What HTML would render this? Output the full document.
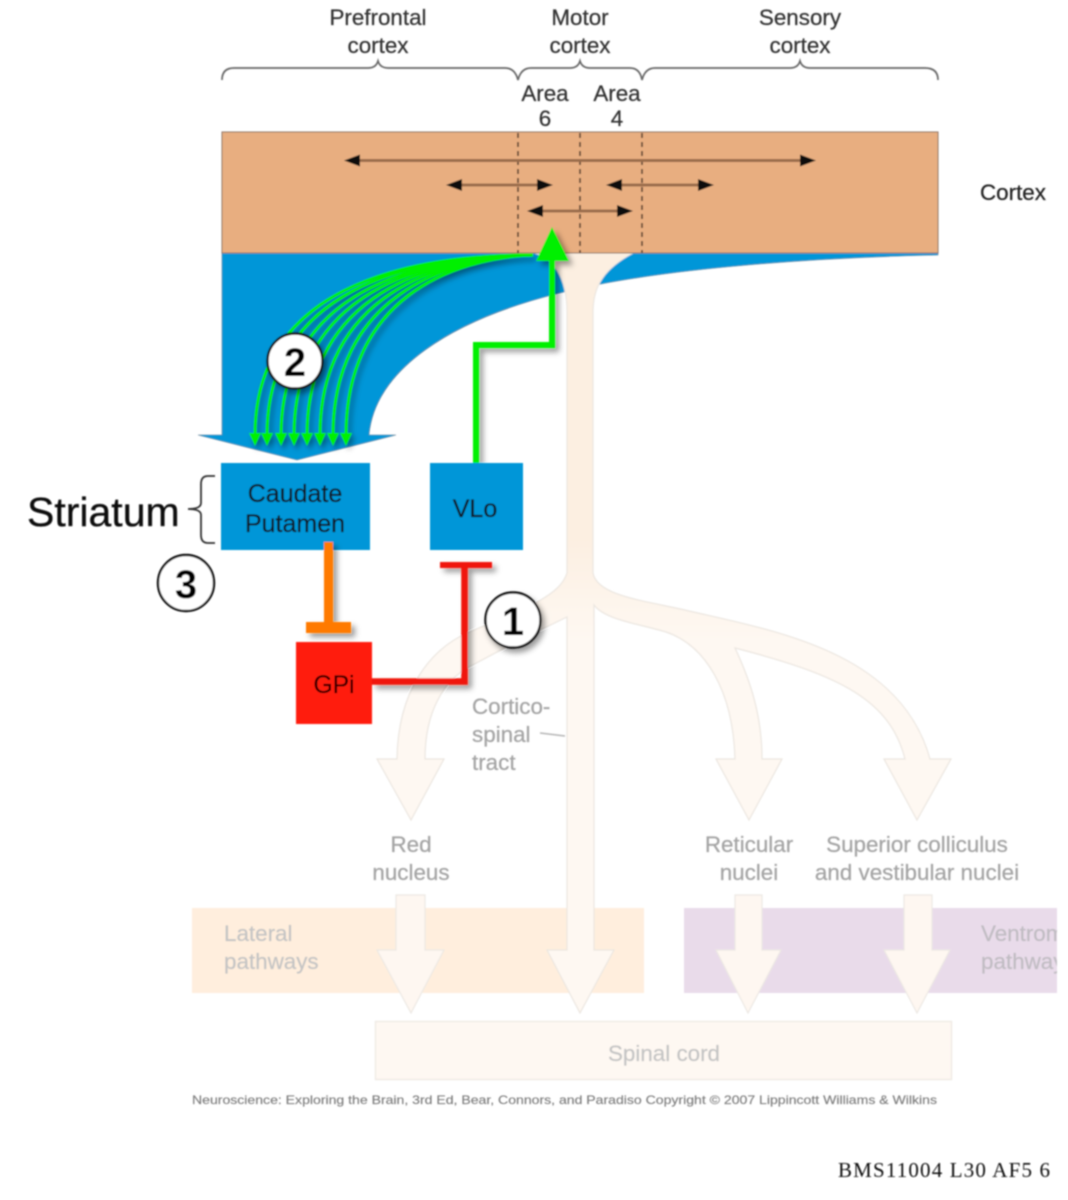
<!DOCTYPE html>
<html>
<head>
<meta charset="utf-8">
<style>
html,body{margin:0;padding:0;background:#fff;width:1068px;height:1200px;overflow:hidden}
svg{display:block}
text{font-family:"Liberation Sans",sans-serif}
</style>
</head>
<body>
<svg width="1068" height="1200" viewBox="0 0 1068 1200" xmlns="http://www.w3.org/2000/svg">
<defs>
<filter id="soft" x="-2%" y="-2%" width="104%" height="104%"><feGaussianBlur stdDeviation="0.8"/></filter>
<filter id="sh" x="-30%" y="-30%" width="160%" height="160%"><feDropShadow dx="4" dy="4" stdDeviation="3" flood-color="#000" flood-opacity="0.4"/></filter>
<filter id="sh2" x="-30%" y="-30%" width="160%" height="160%"><feDropShadow dx="3" dy="4" stdDeviation="3" flood-color="#000" flood-opacity="0.4"/></filter>
<linearGradient id="tr" gradientUnits="userSpaceOnUse" x1="0" y1="540" x2="0" y2="640">
<stop offset="0" stop-color="#fcefe1"/><stop offset="1" stop-color="#fef8f2"/>
</linearGradient>
</defs>
<g filter="url(#soft)">
<!-- lower pathway bands -->
<rect x="192" y="908" width="452" height="85" fill="#ffeedd"/>
<rect x="684" y="908" width="373" height="85" fill="#e9dbea"/>
<text font-size="22.4" fill="#c4c4c4" stroke="#c4c4c4" stroke-width="0.25"><tspan x="224" y="941">Lateral</tspan><tspan x="224" y="969">pathways</tspan></text>
<svg x="684" y="908" width="373" height="85" viewBox="684 908 373 85"><text font-size="22.4" fill="#c0bcc2" stroke="#c0bcc2" stroke-width="0.25"><tspan x="981" y="941">Ventromedial</tspan><tspan x="981" y="969">pathways</tspan></text></svg>
<rect x="375.5" y="1021.5" width="576" height="58" fill="#fef8f2" stroke="#f0ebe5" stroke-width="1.5"/>
<text x="664" y="1061" font-size="22.4" fill="#c4c4c4" stroke="#c4c4c4" stroke-width="0.25" text-anchor="middle">Spinal cord</text>

<!-- blue cortical projection -->
<path d="M222,253 H938 V255 C800,258 650,270 560,293 C450,320 375,370 369,435 H396 L297,460 L198,435 H222 Z" fill="#0096d8" stroke="#5a7f95" stroke-width="0.6"/>

<!-- corticospinal tract and branches -->
<path d="M535,253 C552,258 567,275 567,312 V573 C560,595 530,607 467,633 C430,650 398,690 397,759 H377 L411,820 L444,759 H425 C425,710 445,680 469,667 C500,650 540,630 567,617 V950 H547 L580,1013 L614,950 H594 V605 C605,620 640,624 666,632 C705,645 733,690 735,759 H716 L749,820 L782,759 H762 C762,715 750,680 735,648 C840,675 890,700 905,759 H884 L917,820 L951,759 H930 C900,650 770,630 685,610 C640,600 597,595 593,573 V312 C593,285 605,268 633,253 Z" fill="url(#tr)" stroke="#ebe6e0" stroke-width="1.2"/>
<!-- lower arrows -->
<path d="M396,895 H425 V950 H444 L411,1013 L377,950 H396 Z" fill="#fef7f1" stroke="#ece8e3" stroke-width="1.2"/>
<path d="M735,895 H762 V950 H781 L748,1013 L716,950 H735 Z" fill="#fef7f1" stroke="#ece8e3" stroke-width="1.2"/>
<path d="M904,895 H932 V950 H950 L917,1013 L884,950 H904 Z" fill="#fef7f1" stroke="#ece8e3" stroke-width="1.2"/>

<!-- cortex -->
<rect x="222" y="132" width="716" height="121" fill="#e8ae80" stroke="#8a7264" stroke-width="1"/>
<g stroke="#5a4030" stroke-width="1.7" stroke-dasharray="5 4">
<line x1="518" y1="133" x2="518" y2="253"/>
<line x1="580" y1="133" x2="580" y2="253"/>
<line x1="642" y1="133" x2="642" y2="253"/>
</g>
<g stroke="#9a6c4c" stroke-width="3">
<line x1="355" y1="160.5" x2="805" y2="160.5"/>
<line x1="457" y1="185" x2="542" y2="185"/>
<line x1="617" y1="185" x2="703" y2="185"/>
<line x1="538" y1="211" x2="621" y2="211"/>
</g>
<path d="M344,160.5 l16,-6 v12 z M816,160.5 l-16,-6 v12 z M446,185 l16,-6 v12 z M553,185 l-16,-6 v12 z M606,185 l16,-6 v12 z M714,185 l-16,-6 v12 z M527,211 l16,-6 v12 z M633,211 l-16,-6 v12 z" fill="#111"/>

<!-- braces -->
<path d="M222,80 q0,-12 12,-12 H368 q8,0 10,-7 q2,7 10,7 H505 q10,0 13,12 q3,-12 13,-12 H570 q8,0 10,-7 q2,7 10,7 H630 q10,0 12,12 q3,-12 13,-12 H790 q8,0 10,-7 q2,7 10,7 H925 q13,0 13,12" fill="none" stroke="#666" stroke-width="1.7"/>

<!-- top labels -->
<g font-size="22.4" fill="#333" stroke="#333" stroke-width="0.25" text-anchor="middle">
<text x="378" y="25">Prefrontal</text><text x="378" y="53">cortex</text>
<text x="580" y="25">Motor</text><text x="580" y="53">cortex</text>
<text x="800" y="25">Sensory</text><text x="800" y="53">cortex</text>
<text x="545" y="101">Area</text><text x="545" y="126">6</text>
<text x="617" y="101">Area</text><text x="617" y="126">4</text>
</g>
<text x="980" y="200" font-size="22.4" fill="#222" stroke="#222" stroke-width="0.25">Cortex</text>

<!-- green fan -->
<g filter="url(#sh2)">
<g fill="none" stroke="#00f000" stroke-width="3">
<path d="M533,255 C400,255 255,290 255,435"/>
<path d="M533,255 C407,255 267,291 267,435"/>
<path d="M533,255 C414,256 281,293 281,435"/>
<path d="M533,255 C421,256 294,294 294,435"/>
<path d="M533,255 C429,256 307,296 307,435"/>
<path d="M533,255 C436,257 320,297 320,435"/>
<path d="M533,255 C443,257 333,299 333,435"/>
<path d="M533,255 C450,258 346,300 346,435"/>
</g>
<path d="M249,433 h12 l-6,13 z M261,433 h12 l-6,13 z M275,433 h12 l-6,13 z M288,433 h12 l-6,13 z M301,433 h12 l-6,13 z M314,433 h12 l-6,13 z M327,433 h12 l-6,13 z M340,433 h12 l-6,13 z" fill="#00f000"/>
</g>

<!-- green thick -->
<g filter="url(#sh)">
<path d="M476,463 V345 H552 V255" fill="none" stroke="#00f000" stroke-width="6"/>
<path d="M552,227 L569,261 H536 Z" fill="#00f000"/>
</g>

<!-- boxes -->
<rect x="221" y="463" width="149" height="87" fill="#0096d8"/>
<rect x="430" y="463" width="93" height="87" fill="#0096d8"/>
<rect x="296" y="642" width="76" height="82" fill="#ff1a0a"/>
<g font-size="25" fill="#0a1a28" stroke="#0a1a28" stroke-width="0.3" text-anchor="middle">
<text x="295" y="502">Caudate</text>
<text x="295" y="532">Putamen</text>
<text x="475" y="517">VLo</text>
</g>
<text x="334" y="693" font-size="24.6" fill="#300" stroke="#300" stroke-width="0.3" text-anchor="middle">GPi</text>

<!-- orange -->
<g filter="url(#sh)">
<path d="M328.5,542 V625" stroke="#ff7a00" stroke-width="9" fill="none"/>
<rect x="306" y="622" width="45" height="11" fill="#ff7a00"/>
</g>
<!-- red -->
<g filter="url(#sh)">
<path d="M372,681.5 H464.5 V565" stroke="#f01408" stroke-width="6.5" fill="none"/>
<rect x="440" y="562" width="52" height="6" fill="#f01408"/>
</g>

<!-- Striatum -->
<text x="27" y="526" font-size="41" fill="#111" stroke="#111" stroke-width="0.3">Striatum</text>
<path d="M215,476 H208 Q201,476 201,484 V503 Q201,509 188,509 Q201,509 201,515 V535 Q201,543 208,543 H215" fill="none" stroke="#333" stroke-width="1.8"/>

<!-- gray labels -->
<g font-size="22.4" fill="#a4a4a4" stroke="#a4a4a4" stroke-width="0.25">
<text x="472" y="714">Cortico-</text>
<text x="472" y="742">spinal</text>
<text x="472" y="770">tract</text>
</g>
<line x1="540" y1="733" x2="565" y2="736" stroke="#b5b5b5" stroke-width="1.5"/>
<g font-size="22.4" fill="#a4a4a4" stroke="#a4a4a4" stroke-width="0.25" text-anchor="middle">
<text x="411" y="852">Red</text><text x="411" y="880">nucleus</text>
<text x="749" y="852">Reticular</text><text x="749" y="880">nuclei</text>
<text x="917" y="852">Superior colliculus</text><text x="917" y="880">and vestibular nuclei</text>
</g>

<!-- numbered circles -->
<g filter="url(#sh2)">
<circle cx="295" cy="361" r="27.5" fill="#fff" stroke="#111" stroke-width="2.4"/>
<circle cx="513" cy="620" r="27.5" fill="#fff" stroke="#111" stroke-width="2.4"/>
</g>
<circle cx="186" cy="583" r="28" fill="#fff" stroke="#111" stroke-width="2.4"/>
<g font-size="40" font-weight="bold" fill="#000" text-anchor="middle">
<text x="295" y="376">2</text>
<text x="513" y="635">1</text>
<text x="186" y="598">3</text>
</g>

<!-- copyright -->
<text x="192" y="1104" font-size="12" fill="#7c7c7c" stroke="#7c7c7c" stroke-width="0.15" textLength="745" lengthAdjust="spacingAndGlyphs">Neuroscience: Exploring the Brain, 3rd Ed, Bear, Connors, and Paradiso Copyright © 2007 Lippincott Williams &amp; Wilkins</text>
<text x="838" y="1177" font-size="21" fill="#111" textLength="212" lengthAdjust="spacing" style="font-family:'Liberation Serif',serif">BMS11004 L30 AF5 6</text>
</g>
</svg>
</body>
</html>
